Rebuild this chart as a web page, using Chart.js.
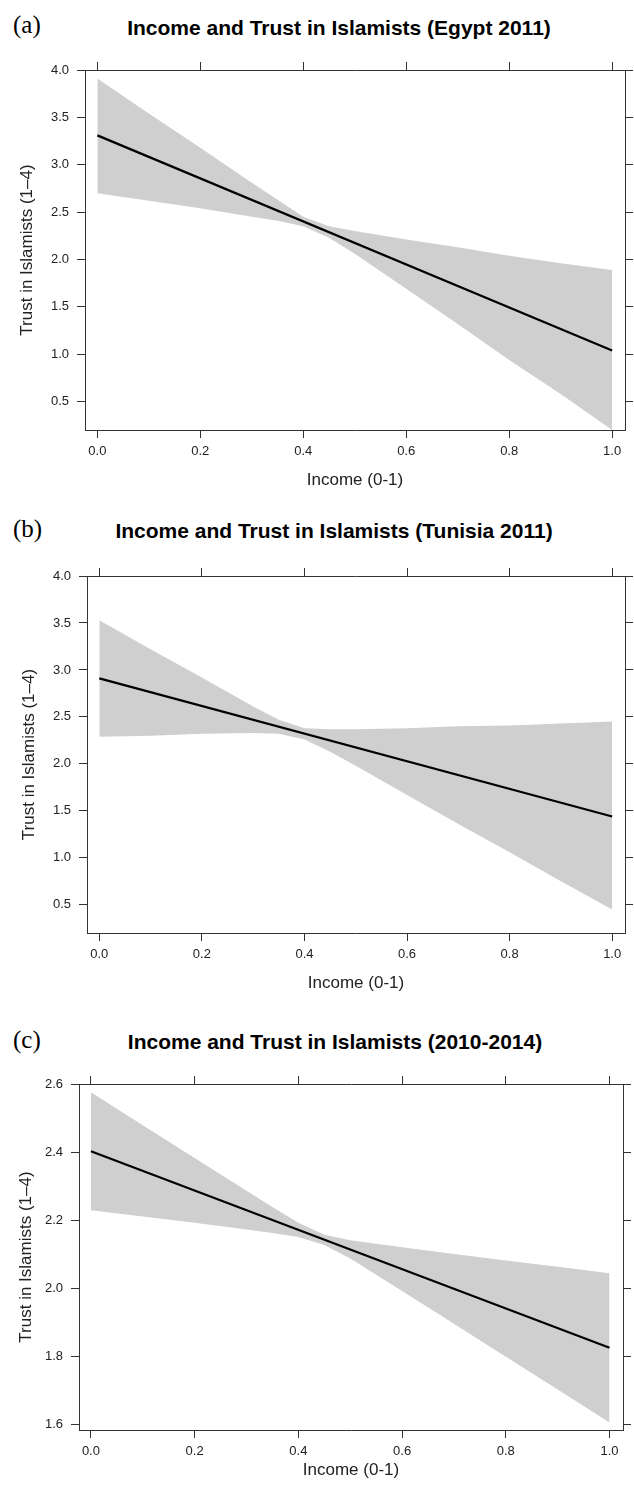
<!DOCTYPE html>
<html><head><meta charset="utf-8">
<script src="https://cdn.jsdelivr.net/npm/chart.js@4"></script>
<style>
html,body{margin:0;padding:0;background:#fff;}
#wrap{position:relative;width:634px;height:1488px;overflow:hidden;background:#fff;}
canvas{position:absolute;left:0;}
.ttl{position:absolute;transform:translateX(-50%);font:bold 21px 'Liberation Sans',Arial,sans-serif;line-height:21px;color:#000;white-space:nowrap;}
.tag{position:absolute;font:25px 'Liberation Serif','Times New Roman',serif;line-height:25px;color:#000;white-space:nowrap;}
</style></head><body>
<div id="wrap">
  <div class="tag" style="left:13px;top:12px;">(a)</div>
  <div class="ttl" style="left:339px;top:17px;">Income and Trust in Islamists (Egypt 2011)</div>
  <canvas id="ca" width="634" height="500" style="top:0px;width:634px;height:500px;"></canvas>
  <div class="tag" style="left:13px;top:516px;">(b)</div>
  <div class="ttl" style="left:334px;top:520px;">Income and Trust in Islamists (Tunisia 2011)</div>
  <canvas id="cb" width="634" height="500" style="top:500px;width:634px;height:500px;"></canvas>
  <div class="tag" style="left:13px;top:1027px;">(c)</div>
  <div class="ttl" style="left:335px;top:1031px;">Income and Trust in Islamists (2010-2014)</div>
  <canvas id="cc" width="634" height="488" style="top:1000px;width:634px;height:488px;"></canvas>
</div>
<script>
// ---- data ----
const incomeTicks = [0.0, 0.2, 0.4, 0.6, 0.8, 1.0];
const trustTicksAB = [0.5, 1.0, 1.5, 2.0, 2.5, 3.0, 3.5, 4.0];
const trustTicksC = [1.6, 1.8, 2.0, 2.2, 2.4, 2.6];

const bandIncome = [0, 0.1, 0.2, 0.3, 0.35, 0.4, 0.45, 0.5, 0.6, 0.7, 0.8, 0.9, 1.0];
const fitIncome = [0, 1];

const egyptUpper = [3.91, 3.54, 3.18, 2.81, 2.63, 2.45, 2.35, 2.30, 2.21, 2.13, 2.04, 1.96, 1.89];
const egyptLower = [2.70, 2.62, 2.54, 2.45, 2.41, 2.35, 2.23, 2.06, 1.69, 1.32, 0.94, 0.58, 0.20];
const egyptFit = [3.31, 1.04];

const tunisiaUpper = [3.53, 3.22, 2.92, 2.61, 2.47, 2.38, 2.37, 2.37, 2.38, 2.40, 2.41, 2.43, 2.45];
const tunisiaLower = [2.29, 2.30, 2.32, 2.33, 2.32, 2.26, 2.13, 1.98, 1.67, 1.36, 1.06, 0.75, 0.45];
const tunisiaFit = [2.91, 1.44];

const pooledUpper = [2.576, 2.479, 2.383, 2.287, 2.239, 2.193, 2.158, 2.142, 2.121, 2.101, 2.082, 2.064, 2.045];
const pooledLower = [2.230, 2.211, 2.193, 2.173, 2.163, 2.151, 2.128, 2.088, 1.993, 1.897, 1.800, 1.704, 1.607];
const pooledFit = [2.403, 1.826];

const xTitle = 'Income (0-1)';
const yTitle = 'Trust in Islamists (1–4)';

// ---- helpers ----
function pts(xs, ys) { return xs.map((x, i) => ({ x: x, y: ys[i] })); }
const axisColor = '#333';
const FONT = "'Liberation Sans', Arial, sans-serif";

function axis(pos, min, max, ticks, showLabels, fitFn, extra) {
  const o = {
    type: 'linear', position: pos, min: min, max: max, grace: 0,
    afterBuildTicks: s => { s.ticks = ticks.map(v => ({ value: v })); },
    afterFit: fitFn,
    grid: { drawOnChartArea: false, drawTicks: true, tickLength: 8, color: axisColor, lineWidth: 1 },
    border: { display: true, color: axisColor, width: 1 },
    ticks: {
      display: showLabels, color: '#222', padding: (pos === 'left' ? 8 : 6),
      font: { family: FONT, size: 13 },
      callback: v => Number(v).toFixed(1)
    }
  };
  return Object.assign(o, extra || {});
}

function panel(id, c) {
  const H = c.h;
  new Chart(document.getElementById(id), {
    type: 'line',
    data: {
      datasets: [
        { data: pts(bandIncome, c.upper), fill: '+1', backgroundColor: '#cfcfcf',
          borderWidth: 0, borderColor: 'rgba(0,0,0,0)', pointRadius: 0, tension: 0, order: 2 },
        { data: pts(bandIncome, c.lower), fill: false, backgroundColor: '#cfcfcf',
          borderWidth: 0, borderColor: 'rgba(0,0,0,0)', pointRadius: 0, tension: 0, order: 2 },
        { data: pts(fitIncome, c.fit), fill: false, borderColor: '#000', borderWidth: 2.2,
          pointRadius: 0, tension: 0, order: 1 }
      ]
    },
    options: {
      responsive: false, animation: false, events: [],
      layout: { padding: 0, autoPadding: false },
      plugins: { legend: { display: false }, tooltip: { enabled: false }, title: { display: false } },
      scales: {
        x: axis('bottom', c.xmin, c.xmax, incomeTicks, true, s => { s.height = H - c.B; }, {
          title: { display: true, text: xTitle, color: '#222', font: { family: FONT, size: 17 },
                   padding: { top: 0, bottom: H - c.xTitleY - 10.2 } }
        }),
        x2: axis('top', c.xmin, c.xmax, incomeTicks, false, s => { s.height = c.T; }),
        y: axis('left', c.ymin, c.ymax, c.yTicks, true, s => { s.width = c.L; }, {
          title: { display: true, text: yTitle, color: '#222', font: { family: FONT, size: 17 },
                   padding: { top: c.yTitleX - 10.2, bottom: 0 } }
        }),
        y2: axis('right', c.ymin, c.ymax, c.yTicks, false, s => { s.width = 634 - c.R; })
      }
    }
  });
}

panel('ca', { h: 500, L: 85, R: 625, T: 70, B: 430, xTitleY: 480, yTitleX: 27,
  xmin: -0.024, xmax: 1.025, ymin: 0.20, ymax: 4.0, yTicks: trustTicksAB,
  upper: egyptUpper, lower: egyptLower, fit: egyptFit });
panel('cb', { h: 500, L: 87, R: 625, T: 76, B: 433, xTitleY: 483, yTitleX: 29,
  xmin: -0.024, xmax: 1.025, ymin: 0.20, ymax: 4.0, yTicks: trustTicksAB,
  upper: tunisiaUpper, lower: tunisiaLower, fit: tunisiaFit });
panel('cc', { h: 488, L: 79, R: 623, T: 84, B: 430, xTitleY: 470, yTitleX: 26,
  xmin: -0.023, xmax: 1.026, ymin: 1.585, ymax: 2.6, yTicks: trustTicksC,
  upper: pooledUpper, lower: pooledLower, fit: pooledFit });
</script>
</body></html>
